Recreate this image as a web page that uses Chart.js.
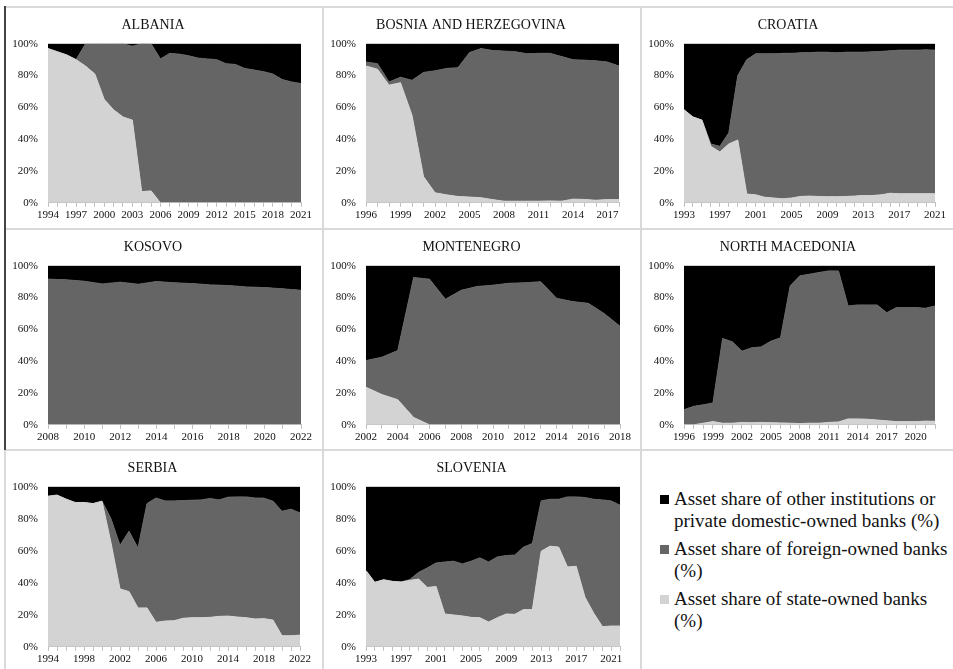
<!DOCTYPE html>
<html>
<head>
<meta charset="utf-8">
<script src="https://cdn.jsdelivr.net/npm/chart.js@4.4.0/dist/chart.umd.min.js"></script>
<style>
  body { margin: 0; background: #fff; width: 953px; height: 669px; position: relative; overflow: hidden; font-family: "Liberation Serif", serif; }
  .panel { position: absolute; }
  .line { position: absolute; background: #d9d9d9; }
  .legend-item { position: absolute; left: 674px; font-size: 19px; line-height: 22px; color: #111; white-space: nowrap; }
  .swatch { position: absolute; left: 660px; width: 9px; height: 9px; }
</style>
</head>
<body>
<div class="line" style="left:5px;top:6px;width:948px;height:2px"></div>
<div class="line" style="left:5px;top:228px;width:948px;height:2px"></div>
<div class="line" style="left:5px;top:449px;width:948px;height:2px"></div>
<div class="line" style="left:322px;top:6px;width:2px;height:663px"></div>
<div class="line" style="left:640px;top:6px;width:2px;height:663px"></div>
<div class="line" style="left:4px;top:6px;width:2px;height:444px;background:#444"></div>
<div class="line" style="left:4px;top:450px;width:2px;height:219px"></div>

<div class="swatch" style="top:495px;background:#000"></div>
<div class="legend-item" style="top:488px">Asset share of other institutions or<br>private domestic-owned banks (%)</div>
<div class="swatch" style="top:545px;background:#656565"></div>
<div class="legend-item" style="top:538px">Asset share of foreign-owned banks<br>(%)</div>
<div class="swatch" style="top:595px;background:#d3d3d3"></div>
<div class="legend-item" style="top:588px">Asset share of state-owned banks<br>(%)</div>

<script>
// year labels helper (categories only)
function years(from, to) {
  var out = [];
  for (var y = from; y <= to; y++) out.push(String(y));
  return out;
}

// ALBANIA 1994-2021
var albaniaYears = years(1994, 2021);
var albaniaState = [97,95,93,90,86,81,65,58.5,54,52,7,7.5,0,0,0,0,0,0,0,0,0,0,0,0,0,0,0,0];
var albaniaForeign = [0,0,0,0,14,19,35,41.5,46,46.5,93,92.5,90.5,94,93.5,92.5,91,90.5,90,87.5,87,84.5,83.5,82.5,81,77.5,76,75];
var albaniaOther = [3,5,7,10,0,0,0,0,0,1.5,0,0,9.5,6,6.5,7.5,9,9.5,10,12.5,13,15.5,16.5,17.5,19,22.5,24,25];

// BOSNIA AND HERZEGOVINA 1996-2018
var bosniaYears = years(1996, 2018);
var bosniaState = [86,84,74,75.5,55,16.5,6.3,5,4,3.6,3.2,2,1,1,1,1,1.2,1,2.3,2.1,1.6,2,2];
var bosniaForeign = [2.5,3.5,2,3.5,22,65.5,76.7,79.5,81,90.9,93.8,93.8,94.4,94,92.7,93,92.8,91,87.7,87.6,87.7,86.5,84];
var bosniaOther = [11.5,12.5,24,21,23,18,17,15.5,15,5.5,3,4.2,4.6,5,6.3,6,6,8,10,10.3,10.7,11.5,14];

// CROATIA 1993-2021
var croatiaYears = years(1993, 2021);
var croatiaState = [58.5,54,52,35.5,32,37,39.5,5.5,5,3.5,3,2.5,3,4,4.2,4,3.8,3.8,4,4.2,4.6,4.6,5,6,5.7,5.7,5.7,5.7,5.7];
var croatiaForeign = [0,0,0,1.5,3.5,7,40.5,84.5,88.7,90.2,90.7,91.5,91,90.3,90.3,90.7,90.9,90.5,90.7,90.5,90.1,90.4,90.2,89.6,90.3,90.3,90.3,90.5,90.3];
var croatiaOther = [41.5,46,48,63,64.5,56,20,10,6.3,6.3,6.3,6,6,5.7,5.5,5.3,5.3,5.7,5.3,5.3,5.3,5,4.8,4.4,4,4,4,3.8,4];

// KOSOVO 2008-2022
var kosovoYears = years(2008, 2022);
var kosovoState = [0,0,0,0,0,0,0,0,0,0,0,0,0,0,0];
var kosovoForeign = [91.6,91.2,90.3,88.6,89.7,88.4,90.1,89.3,88.8,88,87.6,86.7,86.3,85.5,84.6];
var kosovoOther = [8.4,8.8,9.7,11.4,10.3,11.6,9.9,10.7,11.2,12,12.4,13.3,13.7,14.5,15.4];

// MONTENEGRO 2002-2018
var montenegroYears = years(2002, 2018);
var montenegroState = [23.6,19,15.8,4.6,0,0,0,0,0,0,0,0,0,0,0,0,0];
var montenegroForeign = [16.8,23.5,30.9,88,91.6,79,84.6,87,87.8,89,89.3,90,79.6,77.5,76.4,70,62];
var montenegroOther = [59.6,57.5,53.3,7.4,8.4,21,15.4,13,12.2,11,10.7,10,20.4,22.5,23.6,30,38];

// NORTH MACEDONIA 1996-2022
var macedoniaYears = years(1996, 2022);
var macedoniaState = [0,0,1,2,1,1,1.5,1.3,1.5,1.3,1.2,1,0.8,1,1,1.5,1.8,3.7,3.7,3.5,3,2.5,2,2,2,2.3,2.2];
var macedoniaForeign = [9.5,11.6,11.6,11.7,53.3,51.2,44.8,47.1,47.5,51.3,53.5,86.4,92.9,93.7,94.8,95.3,95,71,71.7,71.9,72.4,68,71.7,71.7,71.7,71,72.5];
var macedoniaOther = [90.5,88.4,87.4,86.3,45.7,47.8,53.7,51.6,51,47.4,45.3,12.6,6.3,5.3,4.2,3.2,3.2,25.3,24.6,24.6,24.6,29.5,26.3,26.3,26.3,26.7,25.3];

// SERBIA 1994-2022
var serbiaYears = years(1994, 2022);
var serbiaState = [94.1,94.8,92.3,90.2,90.2,89.5,91,65,36.2,34.5,24.3,24.3,15.3,16.1,16.3,17.8,18.2,18.2,18.4,19,19.2,18.6,18.2,17.4,17.6,16.7,6.9,6.9,7.3];
var serbiaForeign = [0,0,0,0,0,0,0,15,27.2,37.7,37.4,65.2,77.7,75.1,74.9,73.6,73.4,73.6,74.3,72.8,74.3,75.1,75.5,75.6,75.3,74.3,77.8,79.1,76.4];
var serbiaOther = [5.9,5.2,7.7,9.8,9.8,10.5,9,20,36.6,27.8,38.3,10.5,7,8.8,8.8,8.6,8.4,8.2,7.3,8.2,6.5,6.3,6.3,7,7.1,9,15.3,14,16.3];

// SLOVENIA 1993-2022
var sloveniaYears = years(1993, 2022);
var sloveniaState = [47.6,40.3,41.9,40.9,40.5,41.5,42.3,37.1,37.7,20.5,19.9,19.3,18.4,18.2,15.5,18.2,20.5,20.3,23.3,23.3,59.7,62.9,62.3,49.9,50.3,31,21,12.6,13,13];
var sloveniaForeign = [0,0,0,0,0,0.5,4.2,12.2,14.7,32.5,33.6,32.5,35.1,37.4,37.5,38,36.5,37.1,39,41.3,31.5,29.3,29.9,43.8,43.4,62.3,71.2,79.2,78.2,75.5];
var sloveniaOther = [52.4,59.7,58.1,59.1,59.5,58,53.5,50.7,47.6,47,46.5,48.2,46.5,44.4,47,43.8,43,42.6,37.7,35.4,8.8,7.8,7.8,6.3,6.3,6.7,7.8,8.2,8.8,11.5];

var yTicks = [0, 20, 40, 60, 80, 100];

var stateColor = "#d3d3d3";
var foreignColor = "#656565";
var otherColor = "#000000";
var fontFamily = "'Liberation Serif', 'Times New Roman', serif";

function makePanel(left, top, width, height, title, labels, state, foreign, other, step, padRight, padBottom) {
  var div = document.createElement("div");
  div.className = "panel";
  div.style.left = left + "px";
  div.style.top = top + "px";
  div.style.width = width + "px";
  div.style.height = height + "px";
  var canvas = document.createElement("canvas");
  div.appendChild(canvas);
  document.body.appendChild(div);

  function ds(data, color, fill) {
    return {
      data: data,
      backgroundColor: color,
      borderColor: color,
      borderWidth: 1,
      pointRadius: 0,
      tension: 0,
      fill: fill,
    };
  }

  return new Chart(canvas.getContext("2d"), {
    type: "line",
    data: {
      labels: labels,
      datasets: [
        ds(state, stateColor, "origin"),
        ds(foreign, foreignColor, "-1"),
        ds(other, otherColor, "-1"),
      ],
    },
    options: {
      responsive: true,
      maintainAspectRatio: false,
      animation: false,
      layout: { padding: { left: 0, right: padRight, top: 0, bottom: padBottom } },
      plugins: {
        legend: { display: false },
        tooltip: { enabled: false },
        title: {
          display: true,
          text: title,
          color: "#111",
          font: { family: fontFamily, size: 14, weight: "normal" },
          padding: { top: 10, bottom: 10 },
        },
      },
      scales: {
        x: {
          offset: false,
          grid: { display: true, drawOnChartArea: false, tickLength: 4, color: "#bfbfbf", offset: false },
          border: { display: true, color: "#bfbfbf" },
          ticks: {
            autoSkip: false,
            maxRotation: 0,
            minRotation: 0,
            padding: 2,
            color: "#111",
            font: { family: fontFamily, size: 11 },
            callback: function (val, idx) {
              return idx % step === 0 ? this.getLabelForValue(val) : "";
            },
          },
        },
        y: {
          stacked: true,
          min: 0,
          max: 100,
          afterFit: function (scale) { scale.width = 43; },
          afterBuildTicks: function (scale) {
            scale.ticks = yTicks.map(function (v) { return { value: v }; });
          },
          grid: { display: false, drawTicks: false },
          border: { display: false },
          ticks: {
            padding: 10,
            color: "#111",
            font: { family: fontFamily, size: 11 },
            callback: function (v) { return v + "%"; },
          },
        },
      },
    },
  });
}

makePanel(5, 7, 318, 222, "ALBANIA", albaniaYears, albaniaState, albaniaForeign, albaniaOther, 3, 22, 5);
makePanel(323, 7, 318, 222, "BOSNIA AND HERZEGOVINA", bosniaYears, bosniaState, bosniaForeign, bosniaOther, 3, 22, 5);
makePanel(641, 7, 312, 222, "CROATIA", croatiaYears, croatiaState, croatiaForeign, croatiaOther, 4, 18, 5);
makePanel(5, 229, 318, 221, "KOSOVO", kosovoYears, kosovoState, kosovoForeign, kosovoOther, 2, 22, 4);
makePanel(323, 229, 318, 221, "MONTENEGRO", montenegroYears, montenegroState, montenegroForeign, montenegroOther, 2, 21, 4);
makePanel(641, 229, 312, 221, "NORTH MACEDONIA", macedoniaYears, macedoniaState, macedoniaForeign, macedoniaOther, 3, 18, 4);
makePanel(5, 450, 318, 219, "SERBIA", serbiaYears, serbiaState, serbiaForeign, serbiaOther, 4, 23, 1);
makePanel(323, 450, 318, 219, "SLOVENIA", sloveniaYears, sloveniaState, sloveniaForeign, sloveniaOther, 4, 21, 1);
</script>
</body>
</html>
